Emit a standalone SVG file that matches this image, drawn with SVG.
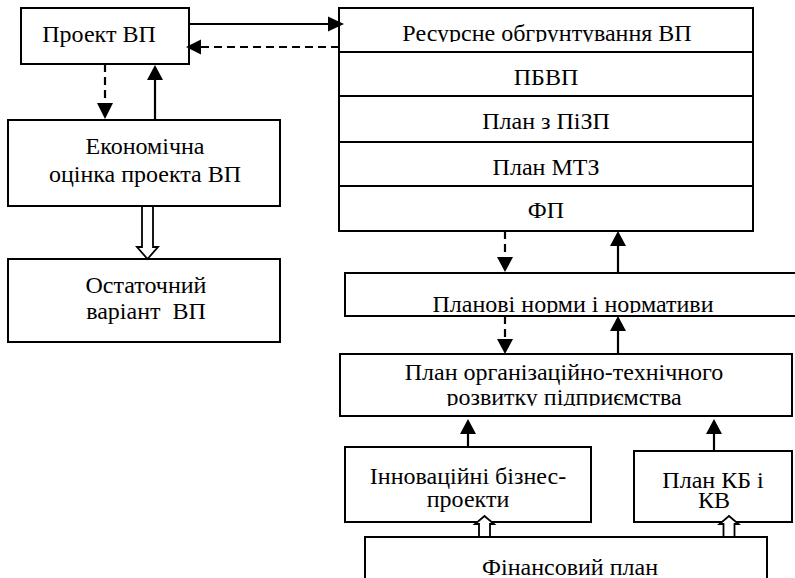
<svg xmlns="http://www.w3.org/2000/svg" width="795" height="578" viewBox="0 0 795 578">
<style>
  .box { fill: #fff; stroke: #000; stroke-width: 2; }
  .t { font-family: "Liberation Serif", "Times New Roman", serif; font-size: 24px; fill: #000; text-anchor: middle; }
  .ln { stroke: #000; stroke-width: 2.2; fill: none; }
  .dash { stroke-dasharray: 8 5; }
  .head { fill: #000; stroke: none; }
  .hollow { fill: #fff; stroke: #000; stroke-width: 1.8; stroke-linejoin: miter; }
</style>
<defs>
  <clipPath id="clipRes"><rect x="339" y="8" width="414" height="34"/></clipPath>
  <clipPath id="clipNorm"><rect x="345" y="273" width="450" height="40"/></clipPath>
  <clipPath id="clipOrg"><rect x="340" y="354" width="452" height="52"/></clipPath>
</defs>
<rect width="795" height="578" fill="#fff"/>

<g id="proekt">
  <rect class="box" x="21" y="8" width="168" height="56"/>
  <text class="t" x="99" y="42">Проект ВП</text>
</g>

<g id="ekonom">
  <rect class="box" x="8" y="120" width="272" height="86"/>
  <text class="t" x="145" y="154">Економічна</text>
  <text class="t" x="145" y="182">оцінка проекта ВП</text>
</g>

<g id="ostatochnyi">
  <rect class="box" x="8" y="259" width="272" height="83"/>
  <text class="t" x="146" y="293">Остаточний</text>
  <text class="t" x="146" y="319" xml:space="preserve">варіант  ВП</text>
</g>

<g id="stack">
  <rect class="box" x="339" y="8" width="414" height="223"/>
  <line class="ln" x1="339" y1="52" x2="753" y2="52"/>
  <line class="ln" x1="339" y1="96" x2="753" y2="96"/>
  <line class="ln" x1="339" y1="142" x2="753" y2="142"/>
  <line class="ln" x1="339" y1="186" x2="753" y2="186"/>
  <g id="resursne"><text class="t" x="547" y="41" clip-path="url(#clipRes)">Ресурсне обгрунтування ВП</text></g>
  <g id="pbvp"><text class="t" x="546" y="85">ПБВП</text></g>
  <g id="pizp"><text class="t" x="546" y="129">План з ПіЗП</text></g>
  <g id="mtz"><text class="t" x="546" y="175">План МТЗ</text></g>
  <g id="fp"><text class="t" x="546" y="218">ФП</text></g>
</g>

<g id="normy">
  <rect class="box" x="345" y="273" width="460" height="43"/>
  <text class="t" x="573" y="312" clip-path="url(#clipNorm)">Планові норми і нормативи</text>
</g>

<g id="orgplan">
  <rect class="box" x="340" y="354" width="452" height="62"/>
  <text class="t" x="564" y="380">План організаційно-технічного</text>
  <text class="t" x="564" y="405" clip-path="url(#clipOrg)">розвитку підприємства</text>
</g>

<g id="innov">
  <rect class="box" x="345" y="447" width="246" height="75"/>
  <text class="t" x="468" y="484">Інноваційні бізнес-</text>
  <text class="t" x="468" y="507">проекти</text>
</g>

<g id="kb">
  <rect class="box" x="634" y="451" width="158" height="71"/>
  <text class="t" x="713" y="488">План КБ і</text>
  <text class="t" x="714" y="508">КВ</text>
</g>

<g id="finplan">
  <rect class="box" x="365" y="537" width="402" height="50"/>
  <text class="t" x="570" y="575">Фінансовий план</text>
</g>

<g id="connectors">
  <line class="ln" x1="189" y1="24" x2="330" y2="24"/>
  <polygon class="head" points="344,24 328,16.5 328,31.5"/>
  <line class="ln dash" x1="339" y1="47" x2="199" y2="47"/>
  <polygon class="head" points="186,47 201,39.5 201,54.5"/>
  <line class="ln dash" x1="105" y1="64" x2="105" y2="104"/>
  <polygon class="head" points="105,119 97,103 113,103"/>
  <line class="ln" x1="155" y1="120" x2="155" y2="78"/>
  <polygon class="head" points="155,65 147,80 163,80"/>
  <polygon class="hollow" points="142,206 142,247 137,247 147.5,259 158,247 153,247 153,206"/>

  <line class="ln dash" x1="505" y1="231" x2="505" y2="258"/>
  <polygon class="head" points="505,272 497,257 513,257"/>
  <line class="ln" x1="618" y1="273" x2="618" y2="244"/>
  <polygon class="head" points="618,231 610,246 626,246"/>
  <line class="ln dash" x1="505" y1="316" x2="505" y2="340"/>
  <polygon class="head" points="505,354 497,339 513,339"/>
  <line class="ln" x1="618" y1="354" x2="618" y2="329"/>
  <polygon class="head" points="618,316 610,331 626,331"/>
  <line class="ln" x1="468" y1="447" x2="468" y2="432"/>
  <polygon class="head" points="468,419 460,434 476,434"/>
  <line class="ln" x1="714" y1="451" x2="714" y2="432"/>
  <polygon class="head" points="714,419 706,434 722,434"/>
  <polygon class="hollow" points="479,537 479,524 475,524 484.5,516 494,524 490,524 490,537"/>
  <polygon class="hollow" points="723.5,537 723.5,524 719.5,524 729,516 738.5,524 734.5,524 734.5,537"/>
</g>
</svg>
